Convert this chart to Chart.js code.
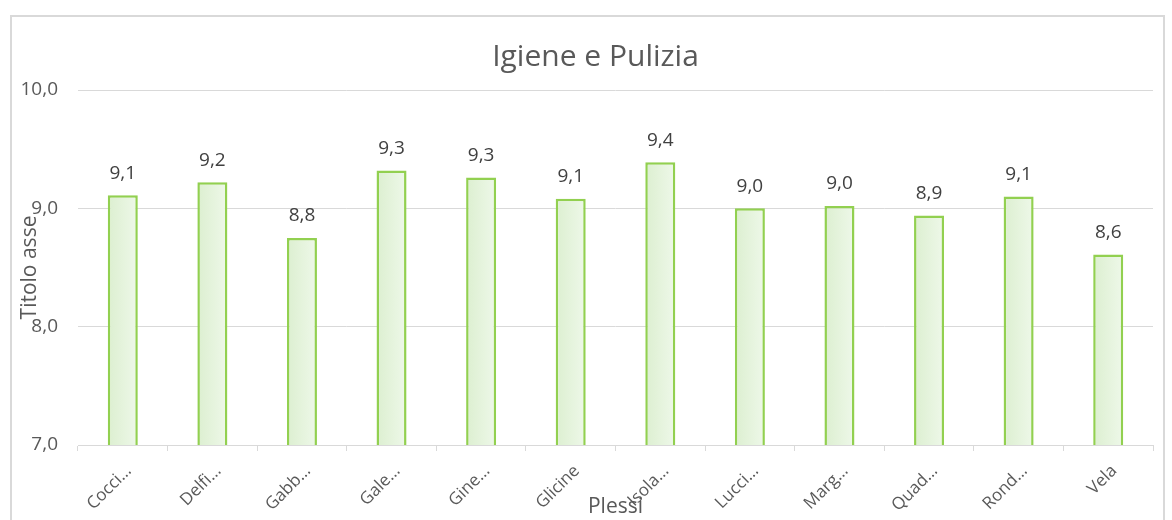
<!DOCTYPE html>
<html>
<head>
<meta charset="utf-8">
<script src="https://cdn.jsdelivr.net/npm/chart.js@4.4.0/dist/chart.umd.min.js"></script>
<style>
  html, body { margin: 0; padding: 0; background: #fff; overflow: hidden; }
  #frame {
    position: absolute; left: 10px; top: 15px;
    width: 1155px; height: 520px;
    border: 2px solid #d9d9d9; box-sizing: border-box;
  }
  #wrap { position: relative; width: 1151px; height: 503px; }
</style>
</head>
<body>
<div id="frame"><div id="wrap"><canvas id="chart"></canvas></div></div>
<script>
// chart data
const categories = ['Cocci…', 'Delfi…', 'Gabb…', 'Gale…', 'Gine…', 'Glicine',
  'Isola…', 'Lucci…', 'Marg…', 'Quad…', 'Rond…', 'Vela'];
const scores = [9.11, 9.22, 8.75, 9.32, 9.26, 9.08, 9.39, 9.0, 9.02, 8.94, 9.1, 8.61];
const yTicks = [7, 8, 9, 10];

const fmt = v => v.toFixed(1).replace('.', ',');
const barShare = 0.335;
const textColor = '#595959';

// bar fill: soft green gradient across each bar
function barFill(c) {
  const xs = c.chart.scales.x;
  if (!xs || !c.chart.chartArea) return '#e5f3dc';
  const cx = xs.getPixelForValue(c.dataIndex);
  const half = (xs.width / categories.length) * barShare / 2;
  const g = c.chart.ctx.createLinearGradient(cx - half, 0, cx + half, 0);
  g.addColorStop(0, '#dcefd0');
  g.addColorStop(1, '#eef8e9');
  return g;
}

// value labels above bars
const valueLabels = {
  id: 'valueLabels',
  afterLayout(chart) {
    // title sits a little right of the canvas centre in the original
    if (chart.titleBlock) {
      chart.titleBlock.left += 13;
      chart.titleBlock.right += 13;
    }
  },
  afterDatasetsDraw(chart) {
    const ctx = chart.ctx;
    const meta = chart.getDatasetMeta(0);
    ctx.save();
    ctx.font = '19px "Open Sans"';
    ctx.fillStyle = '#404040';
    ctx.textAlign = 'center';
    ctx.textBaseline = 'middle';
    meta.data.forEach((bar, i) => {
      ctx.fillText(fmt(scores[i]), bar.x, bar.y - 22);
    });
    ctx.restore();
  }
};

new Chart(document.getElementById('chart'), {
  type: 'bar',
  data: {
    labels: categories,
    datasets: [{
      data: scores,
      backgroundColor: barFill,
      borderColor: '#92d050',
      borderWidth: 2.5,
      borderSkipped: false,
      barPercentage: barShare,
      categoryPercentage: 1
    }]
  },
  options: {
    responsive: true,
    maintainAspectRatio: false,
    animation: false,
    layout: { padding: { left: 0, right: 10, top: 0, bottom: 0 } },
    plugins: {
      legend: { display: false },
      tooltip: { enabled: false },
      title: {
        display: true,
        text: 'Igiene e Pulizia',
        color: textColor,
        font: { family: 'Open Sans', size: 30, weight: 'normal' },
        padding: { top: 22, bottom: 15 }
      }
    },
    scales: {
      y: {
        min: yTicks[0],
        max: yTicks[yTicks.length - 1],
        afterBuildTicks(s) { s.ticks = yTicks.map(v => ({ value: v })); },
        afterFit(s) { s.width = 66; },
        border: { display: false },
        grid: { color: '#d9d9d9', drawTicks: false },
        ticks: {
          color: textColor,
          padding: 20,
          font: { family: 'Open Sans', size: 19 },
          callback: v => fmt(v)
        },
        title: {
          display: true,
          text: 'Titolo asse',
          color: textColor,
          font: { family: 'Open Sans', size: 21 },
          padding: { top: 5, bottom: 0 }
        }
      },
      x: {
        afterFit(s) { s.height = 75; },
        border: { display: true, color: '#d9d9d9', width: 1 },
        grid: { display: true, drawOnChartArea: false, drawTicks: true, tickLength: 6, offset: true, color: '#d9d9d9' },
        ticks: {
          color: textColor,
          autoSkip: false,
          maxRotation: 45,
          minRotation: 45,
          padding: 10,
          labelOffset: 6,
          font: { family: 'Open Sans', size: 17 }
        },
        title: {
          display: true,
          text: 'Plessi',
          color: textColor,
          font: { family: 'Open Sans', size: 21 },
          padding: { top: 0, bottom: 0 }
        }
      }
    }
  },
  plugins: [valueLabels]
});
</script>
</body>
</html>
